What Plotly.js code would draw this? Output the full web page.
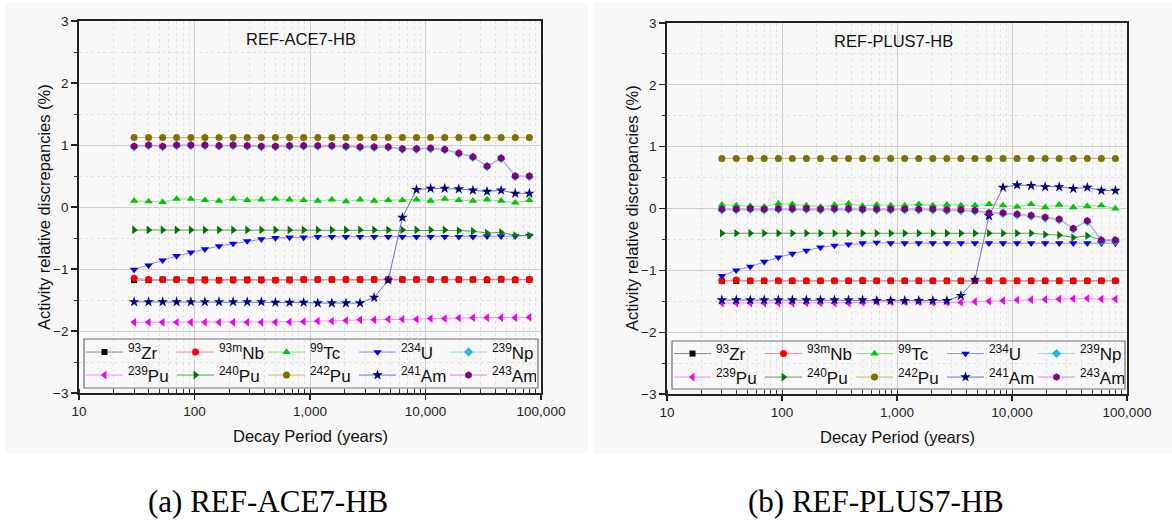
<!DOCTYPE html>
<html>
<head>
<meta charset="utf-8">
<script src="https://cdn.plot.ly/plotly-3.0.1.min.js"></script>
<style>
html,body{margin:0;padding:0;background:#fff;}
#chart{width:1172px;height:526px;}
</style>
</head>
<body>
<div id="chart"></div>
<script>
// ---------------- DATA ----------------
const decayYears = [30, 40, 53, 70, 93, 123, 163, 216, 286, 379, 502, 665, 881, 1167, 1546, 2048, 2713, 3594, 4762, 6308, 8357, 11071, 14667, 19430, 25741, 34101, 45177, 59850, 79289];

const nuclideLabels = ['<sup>93</sup>Zr', '<sup>93m</sup>Nb', '<sup>99</sup>Tc', '<sup>234</sup>U', '<sup>239</sup>Np',
                       '<sup>239</sup>Pu', '<sup>240</sup>Pu', '<sup>242</sup>Pu', '<sup>241</sup>Am', '<sup>243</sup>Am'];

const xTickVals = [10, 100, 1000, 10000, 100000];
const xTickText = ['10', '100', '1,000', '10,000', '100,000'];
const yTickVals = [-3, -2, -1, 0, 1, 2, 3];

const panelTitles = ['REF-ACE7-HB', 'REF-PLUS7-HB'];
const captions = ['(a) REF-ACE7-HB', '(b) REF-PLUS7-HB'];
const xTitle = 'Decay Period (years)';
const yTitle = 'Activity relative discrepancies (%)';

// (a) REF-ACE7-HB
const zr93_A   = [-1.18,-1.18,-1.17,-1.17,-1.18,-1.17,-1.18,-1.17,-1.17,-1.17,-1.18,-1.17,-1.17,-1.17,-1.17,-1.17,-1.17,-1.17,-1.17,-1.17,-1.17,-1.17,-1.17,-1.17,-1.17,-1.18,-1.17,-1.18,-1.17];
const nb93m_A  = [-1.15,-1.17,-1.17,-1.17,-1.18,-1.18,-1.18,-1.18,-1.18,-1.18,-1.18,-1.18,-1.17,-1.17,-1.17,-1.17,-1.17,-1.17,-1.17,-1.17,-1.17,-1.17,-1.17,-1.17,-1.17,-1.17,-1.16,-1.17,-1.17];
const tc99_A   = [0.10,0.09,0.08,0.13,0.13,0.11,0.10,0.13,0.11,0.12,0.13,0.12,0.11,0.10,0.12,0.09,0.12,0.10,0.11,0.11,0.12,0.10,0.13,0.11,0.10,0.12,0.10,0.07,0.11];
const u234_A   = [-1.01,-0.94,-0.86,-0.79,-0.73,-0.68,-0.63,-0.59,-0.55,-0.52,-0.50,-0.49,-0.49,-0.48,-0.48,-0.48,-0.48,-0.48,-0.48,-0.48,-0.48,-0.48,-0.48,-0.48,-0.48,-0.47,-0.47,-0.47,-0.46];
const np239_A  = [0.97,0.99,0.97,0.99,0.99,0.99,0.98,0.99,0.98,0.97,0.97,0.98,0.98,0.98,0.98,0.97,0.96,0.96,0.96,0.93,0.93,0.94,0.92,0.86,0.80,0.65,0.78,0.49,0.49];
const pu239_A  = [-1.86,-1.86,-1.86,-1.86,-1.86,-1.86,-1.86,-1.86,-1.86,-1.86,-1.86,-1.855,-1.85,-1.84,-1.84,-1.83,-1.82,-1.82,-1.81,-1.81,-1.81,-1.80,-1.80,-1.79,-1.785,-1.785,-1.785,-1.785,-1.78];
const pu240_A  = [-0.37,-0.37,-0.37,-0.37,-0.37,-0.37,-0.37,-0.37,-0.37,-0.37,-0.37,-0.37,-0.37,-0.37,-0.37,-0.37,-0.37,-0.37,-0.37,-0.37,-0.37,-0.37,-0.37,-0.38,-0.39,-0.42,-0.41,-0.46,-0.46];
const pu242_A  = [1.12,1.12,1.12,1.12,1.12,1.12,1.12,1.12,1.12,1.12,1.12,1.12,1.12,1.12,1.12,1.12,1.12,1.12,1.12,1.12,1.12,1.12,1.12,1.12,1.12,1.12,1.12,1.12,1.12];
const am241_A  = [-1.53,-1.53,-1.53,-1.53,-1.53,-1.53,-1.53,-1.53,-1.53,-1.53,-1.54,-1.54,-1.54,-1.55,-1.55,-1.55,-1.55,-1.46,-1.18,-0.17,0.28,0.30,0.30,0.29,0.27,0.25,0.27,0.22,0.22];
const am243_A  = [0.98,1.00,0.98,1.00,1.00,1.00,0.99,1.00,0.99,0.98,0.98,0.99,0.99,0.99,0.99,0.98,0.97,0.97,0.97,0.94,0.94,0.95,0.93,0.87,0.81,0.66,0.79,0.50,0.50];

// (b) REF-PLUS7-HB
const zr93_B   = [-1.17,-1.17,-1.17,-1.17,-1.17,-1.17,-1.17,-1.17,-1.17,-1.17,-1.17,-1.17,-1.17,-1.17,-1.17,-1.17,-1.17,-1.17,-1.17,-1.17,-1.17,-1.17,-1.17,-1.17,-1.17,-1.17,-1.17,-1.17,-1.17];
const nb93m_B  = [-1.17,-1.155,-1.17,-1.17,-1.17,-1.17,-1.17,-1.17,-1.17,-1.17,-1.16,-1.17,-1.17,-1.17,-1.17,-1.17,-1.17,-1.17,-1.17,-1.17,-1.17,-1.17,-1.17,-1.17,-1.17,-1.17,-1.17,-1.17,-1.17];
const tc99_B   = [0.06,0.05,0.04,0.03,0.08,0.07,0.05,0.03,0.06,0.08,0.04,0.06,0.05,0.05,0.07,0.05,0.06,0.05,0.05,0.07,0.05,0.03,0.07,0.02,0.06,0.02,0.04,0.05,0.00];
const u234_B   = [-1.09,-1.00,-0.94,-0.86,-0.79,-0.73,-0.68,-0.63,-0.60,-0.58,-0.56,-0.55,-0.56,-0.56,-0.56,-0.56,-0.56,-0.56,-0.56,-0.56,-0.56,-0.56,-0.56,-0.56,-0.56,-0.56,-0.56,-0.56,-0.56];
const np239_B  = [-0.025,-0.025,-0.015,-0.025,-0.015,-0.015,-0.015,-0.025,-0.015,-0.015,-0.025,-0.025,-0.025,-0.025,-0.025,-0.025,-0.035,-0.035,-0.045,-0.085,-0.085,-0.105,-0.125,-0.155,-0.185,-0.335,-0.215,-0.525,-0.525];
const pu239_B  = [-1.53,-1.53,-1.53,-1.53,-1.53,-1.53,-1.53,-1.53,-1.53,-1.53,-1.52,-1.51,-1.51,-1.51,-1.51,-1.52,-1.52,-1.52,-1.505,-1.50,-1.49,-1.48,-1.475,-1.47,-1.465,-1.46,-1.455,-1.465,-1.465];
const pu240_B  = [-0.40,-0.40,-0.40,-0.40,-0.40,-0.40,-0.40,-0.40,-0.40,-0.40,-0.40,-0.40,-0.40,-0.40,-0.40,-0.40,-0.40,-0.40,-0.40,-0.40,-0.40,-0.40,-0.40,-0.42,-0.43,-0.47,-0.44,-0.51,-0.51];
const pu242_B  = [0.81,0.81,0.81,0.81,0.81,0.81,0.81,0.81,0.81,0.81,0.81,0.81,0.81,0.81,0.81,0.81,0.81,0.81,0.81,0.81,0.81,0.81,0.81,0.81,0.81,0.81,0.81,0.81,0.81];
const am241_B  = [-1.48,-1.48,-1.48,-1.48,-1.48,-1.48,-1.48,-1.48,-1.48,-1.48,-1.48,-1.49,-1.49,-1.49,-1.49,-1.49,-1.49,-1.41,-1.155,-0.12,0.34,0.38,0.37,0.35,0.35,0.32,0.34,0.29,0.29];
const am243_B  = [-0.01,-0.01,0.00,-0.01,0.00,0.00,0.00,-0.01,0.00,0.00,-0.01,-0.01,-0.01,-0.01,-0.01,-0.01,-0.02,-0.02,-0.03,-0.07,-0.07,-0.09,-0.11,-0.14,-0.17,-0.32,-0.20,-0.51,-0.51];

const seriesA = [zr93_A, nb93m_A, tc99_A, u234_A, np239_A, pu239_A, pu240_A, pu242_A, am241_A, am243_A];
const seriesB = [zr93_B, nb93m_B, tc99_B, u234_B, np239_B, pu239_B, pu240_B, pu242_B, am241_B, am243_B];

// ---------------- STYLE ----------------
const styles = [
  {mc:'#000000', lc:'#8c8c8c', sym:'square', size:6},
  {mc:'#ff0000', lc:'#ff8a8a', sym:'circle', size:7},
  {mc:'#00c800', lc:'#8ee08e', sym:'triangle-up', size:7.5},
  {mc:'#0000f0', lc:'#8c8cff', sym:'triangle-down', size:7.5},
  {mc:'#1eb4f0', lc:'#8fdcf8', sym:'diamond', size:7},
  {mc:'#f000f0', lc:'#ff8cff', sym:'triangle-left', size:7.5},
  {mc:'#007800', lc:'#5aa05a', sym:'triangle-right', size:7.5},
  {mc:'#807000', lc:'#c8b870', sym:'circle', size:7},
  {mc:'#000080', lc:'#7070b8', sym:'star', size:8},
  {mc:'#800080', lc:'#d88ad0', sym:'hexagon', size:7.5}
];

const W = 1172, H = 526;
const px = v => v / W;
const py = v => 1 - v / H;
const FONT = 'Liberation Sans, Arial, sans-serif';

const traces = [];
[seriesA, seriesB].forEach((ser, p) => {
  ser.forEach((ys, i) => {
    const st = styles[i];
    const legendId = (p === 0 ? (i < 5 ? 'legend' : 'legend2') : (i < 5 ? 'legend3' : 'legend4'));
    traces.push({
      type: 'scatter', mode: 'lines+markers',
      x: decayYears, y: ys,
      name: nuclideLabels[i],
      xaxis: p === 0 ? 'x' : 'x2', yaxis: p === 0 ? 'y' : 'y2',
      legend: legendId,
      line: {color: st.lc, width: 1},
      marker: {color: st.mc, symbol: st.sym, size: st.size, line: {width: 0}},
      hoverinfo: 'x+y+name'
    });
  });
});

function xAxis(domain, anchor) {
  return {
    type: 'log', range: [1, 5], domain: domain, anchor: anchor,
    tickvals: xTickVals, ticktext: xTickText,
    ticks: 'outside', ticklen: 5, tickwidth: 1.2, tickcolor: '#222',
    showline: true, linecolor: '#222', linewidth: 1.8, mirror: true,
    showgrid: true, gridcolor: '#cfcfcf', gridwidth: 1,
    zeroline: false,
    tickfont: {family: FONT, size: 13.5, color: '#222'},
    minor: {dtick: 'D1', ticks: 'inside', ticklen: 4, tickwidth: 1, tickcolor: '#333',
            showgrid: true, gridcolor: '#e2e2e2', griddash: 'dot', gridwidth: 1}
  };
}
function yAxis(domain, anchor) {
  return {
    range: [-3, 3], domain: domain, anchor: anchor,
    tickvals: yTickVals,
    ticks: 'outside', ticklen: 6, tickwidth: 1.2, tickcolor: '#222',
    showline: true, linecolor: '#222', linewidth: 1.8, mirror: true,
    showgrid: true, gridcolor: '#cfcfcf', gridwidth: 1,
    zeroline: false,
    tickfont: {family: FONT, size: 13.5, color: '#222'},
    minor: {dtick: 0.5, ticks: 'outside', ticklen: 3, tickwidth: 1, tickcolor: '#333',
            showgrid: true, gridcolor: '#e2e2e2', griddash: 'dot', gridwidth: 1}
  };
}

function legendAt(xpx, ypx) {
  return {
    orientation: 'h', x: px(xpx), y: py(ypx), xanchor: 'left', yanchor: 'middle',
    bgcolor: 'rgba(0,0,0,0)', borderwidth: 0,
    font: {family: FONT, size: 17, color: '#111'},
    itemwidth: 37, entrywidth: 39, entrywidthmode: 'pixels',
    tracegroupgap: 0, itemclick: false, itemdoubleclick: false
  };
}

const annFont = {family: FONT, size: 16.5, color: '#111'};
function ann(text, x, y, font, extra) {
  return Object.assign({text: text, x: px(x), y: py(y), xref: 'paper', yref: 'paper',
    xanchor: 'center', yanchor: 'middle', showarrow: false, font: font}, extra || {});
}
const capFont = {family: 'Liberation Serif, Times New Roman, serif', size: 31, color: '#000'};
const annotations = [
  ann(panelTitles[0], 301, 39, annFont),
  ann(panelTitles[1], 893, 41, annFont),
  ann(xTitle, 310, 436, annFont),
  ann(xTitle, 897, 437, annFont),
  ann(yTitle, 44, 207, annFont, {textangle: -90}),
  ann(yTitle, 632, 208, annFont, {textangle: -90}),
  ann(captions[0], 268, 501, capFont),
  ann(captions[1], 876, 501, capFont)
];

const shapes = [
  {type: 'rect', xref: 'paper', yref: 'paper', x0: px(5), x1: px(588), y0: py(453), y1: py(3),
   fillcolor: '#f8f8f8', line: {width: 0}, layer: 'below'},
  {type: 'rect', xref: 'paper', yref: 'paper', x0: px(593), x1: px(1172), y0: py(453), y1: py(3),
   fillcolor: '#f8f8f8', line: {width: 0}, layer: 'below'},
  {type: 'rect', xref: 'paper', yref: 'paper', x0: px(84), x1: px(538), y0: py(388), y1: py(339),
   line: {width: 1.2, color: '#707070'}, fillcolor: 'rgba(0,0,0,0)', layer: 'above'},
  {type: 'rect', xref: 'paper', yref: 'paper', x0: px(672), x1: px(1125), y0: py(389), y1: py(341),
   line: {width: 1.2, color: '#707070'}, fillcolor: 'rgba(0,0,0,0)', layer: 'above'}
];

const layout = {
  width: W, height: H,
  margin: {l: 0, r: 0, t: 0, b: 0},
  paper_bgcolor: '#ffffff', plot_bgcolor: 'rgba(0,0,0,0)',
  showlegend: true,
  xaxis: xAxis([px(79), px(541)], 'y'),
  yaxis: yAxis([py(393), py(21)], 'x'),
  xaxis2: xAxis([px(667), px(1127)], 'y2'),
  yaxis2: yAxis([py(394), py(23)], 'x2'),
  legend: legendAt(81, 352.5),
  legend2: legendAt(81, 375.5),
  legend3: legendAt(669, 354),
  legend4: legendAt(669, 377.5),
  annotations: annotations,
  shapes: shapes,
  font: {family: FONT}
};

Plotly.newPlot('chart', traces, layout, {displayModeBar: false, staticPlot: true});
</script>
</body>
</html>
